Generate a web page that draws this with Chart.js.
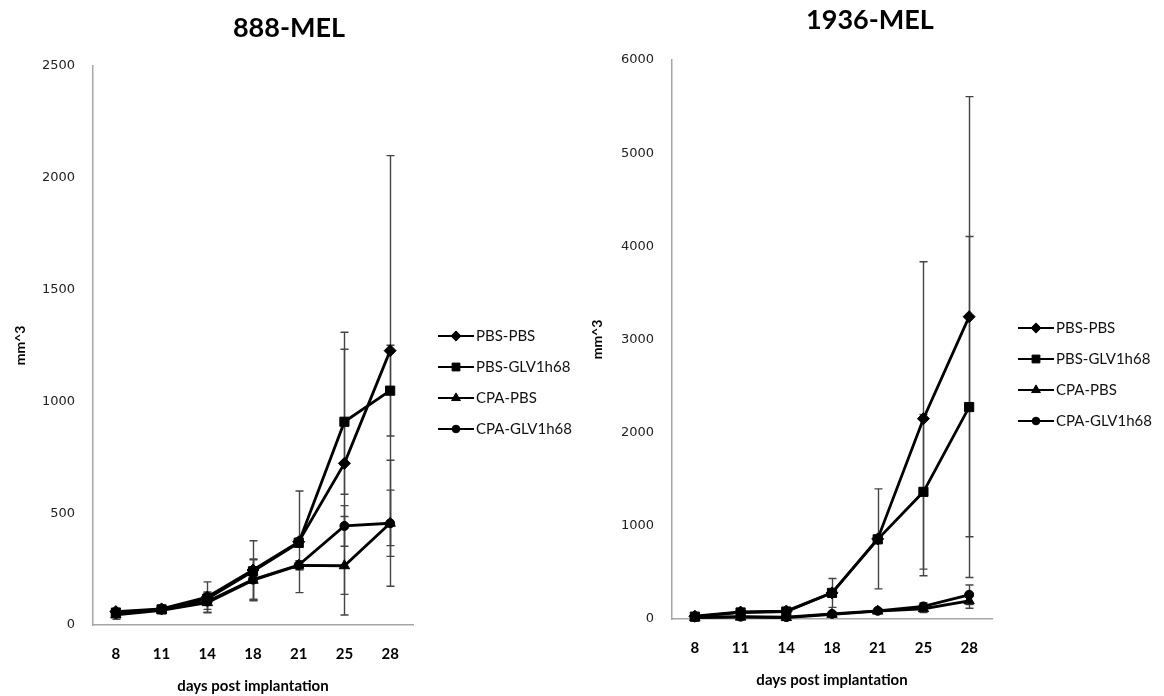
<!DOCTYPE html>
<html>
<head>
<meta charset="utf-8">
<script src="https://cdn.jsdelivr.net/npm/chart.js@4.4.0/dist/chart.umd.min.js"></script>
<style>
  body { margin: 0; background: #fff; }
  #wrap { position: relative; width: 1164px; height: 696px; }
  canvas { position: absolute; top: 0; }
</style>
</head>
<body>
<div id="wrap">
  <canvas id="chart888" width="582" height="696" style="left:0"></canvas>
  <canvas id="chart1936" width="582" height="696" style="left:582px"></canvas>
</div>
<script>
// days post implantation (x categories)
const days = ["8", "11", "14", "18", "21", "25", "28"];
const groups = ["PBS-PBS", "PBS-GLV1h68", "CPA-PBS", "CPA-GLV1h68"];
const markerStyles = ["rectRot", "rect", "triangle", "circle"];
const markerRadius = [6, 6.5, 6, 4.5];

// 888-MEL tumour volume (mm^3), mean and SD
const mel888_pbsPbs = [60, 72, 125, 246, 372, 723, 1227];
const mel888_pbsGlv = [55, 70, 118, 240, 368, 909, 1048];
const mel888_cpaPbs = [45, 66, 100, 200, 267, 265, 455];
const mel888_cpaGlv = [50, 70, 105, 203, 268, 443, 455];
const mel888_pbsPbs_sd = [15, 10, 68, 131, 227, 586, 872];
const mel888_pbsGlv_sd = [15, 10, 30, 20, 20, 324, 203];
const mel888_cpaPbs_sd = [20, 15, 45, 92, 20, 220, 148];
const mel888_cpaGlv_sd = [15, 12, 35, 92, 20, 91, 282];
const mel888_yTicks = [0, 500, 1000, 1500, 2000, 2500];

// 1936-MEL tumour volume (mm^3), mean and SD
const mel1936_pbsPbs = [30, 75, 85, 280, 860, 2150, 3245];
const mel1936_pbsGlv = [25, 70, 80, 280, 855, 1365, 2275];
const mel1936_cpaPbs = [15, 20, 15, 50, 85, 110, 195];
const mel1936_cpaGlv = [20, 25, 20, 55, 88, 135, 260];
const mel1936_pbsPbs_sd = [10, 20, 25, 155, 537, 1685, 2362];
const mel1936_pbsGlv_sd = [10, 20, 20, 30, 40, 830, 1830];
const mel1936_cpaPbs_sd = [5, 10, 5, 20, 20, 40, 80];
const mel1936_cpaGlv_sd = [5, 10, 5, 20, 20, 40, 105];
const mel1936_yTicks = [0, 1000, 2000, 3000, 4000, 5000, 6000];

// draws the +/- SD whiskers through the y scale
const errorBars = {
  id: "errorBars",
  beforeDatasetsDraw(chart) {
    const ctx = chart.ctx;
    const yScale = chart.scales.y;
    ctx.save();
    ctx.strokeStyle = "#444";
    ctx.lineWidth = 1.4;
    chart.data.datasets.forEach((ds, i) => {
      chart.getDatasetMeta(i).data.forEach((pt, j) => {
        const top = yScale.getPixelForValue(ds.data[j] + ds.errors[j]);
        const bot = yScale.getPixelForValue(ds.data[j] - ds.errors[j]);
        const x = Math.round(pt.x) + 0.5;
        ctx.beginPath();
        ctx.moveTo(x, top); ctx.lineTo(x, bot);
        ctx.moveTo(x - 4, top); ctx.lineTo(x + 4, top);
        ctx.moveTo(x - 4, bot); ctx.lineTo(x + 4, bot);
        ctx.stroke();
      });
    });
    ctx.restore();
  }
};

// chart title + legend on the right, line + marker like the spreadsheet one
const sideLegend = {
  id: "sideLegend",
  afterDraw(chart, args, opts) {
    const ctx = chart.ctx;
    ctx.save();
    ctx.font = "bold 27px Lato";
    ctx.fillStyle = "#000";
    ctx.textAlign = "center";
    ctx.textBaseline = "middle";
    ctx.fillText(opts.title, opts.titleX, opts.titleY);

    chart.data.datasets.forEach((ds, i) => {
      const y = opts.y + i * opts.gap;
      ctx.strokeStyle = "#000";
      ctx.lineWidth = 2;
      ctx.beginPath();
      ctx.moveTo(opts.x, y);
      ctx.lineTo(opts.x + 36, y);
      ctx.stroke();
      ctx.fillStyle = "#000";
      ctx.lineWidth = 1;
      Chart.helpers.drawPoint(ctx, { pointStyle: ds.pointStyle, radius: ds.pointRadius * 0.85, borderWidth: 1, rotation: 0 }, opts.x + 18, y);
      ctx.font = "15px Lato";
      ctx.fillStyle = "#111";
      ctx.textBaseline = "middle";
      ctx.textAlign = "left";
      ctx.fillText(ds.label, opts.x + 38, y);
    });
    ctx.restore();
  }
};

function makeDatasets(values, errors) {
  return values.map((v, i) => ({
    label: groups[i],
    data: v,
    errors: errors[i],
    borderColor: "#000",
    borderWidth: 2.8,
    backgroundColor: "#000",
    pointStyle: markerStyles[i],
    pointRadius: markerRadius[i],
    pointBackgroundColor: "#000",
    pointBorderColor: "#000",
    pointBorderWidth: 1,
    tension: 0,
    fill: false,
    clip: false
  }));
}

function makeChart(id, title, datasets, yTicks, L) {
  const axisBorder = { display: true, color: "#a6a6a6", width: 1.5 };
  new Chart(document.getElementById(id), {
    type: "line",
    data: { labels: days, datasets: datasets },
    options: {
      responsive: false,
      animation: false,
      events: [],
      layout: { padding: { left: 0, top: L.top, bottom: 0, right: L.padRight } },
      plugins: {
        legend: { display: false },
        tooltip: { enabled: false },
        title: { display: false },
        sideLegend: { title: title, titleX: L.titleX, titleY: L.titleY, x: L.legendX, y: L.legendY, gap: 31 }
      },
      scales: {
        x: {
          offset: true,
          grid: { display: false, drawTicks: false },
          border: axisBorder,
          ticks: { color: "#000", font: { family: "Lato", size: 15, weight: "bold" }, padding: 20, maxRotation: 0, autoSkip: false },
          title: {
            display: true,
            text: "days post implantation",
            color: "#000",
            font: { family: "Lato", size: 15, weight: "bold" },
            padding: { top: 0, bottom: L.xTitleBottom }
          },
          afterFit(s) { s.height = L.xHeight; }
        },
        y: {
          min: yTicks[0],
          max: yTicks[yTicks.length - 1],
          grid: { display: false, drawTicks: false },
          border: axisBorder,
          afterBuildTicks(s) { s.ticks = yTicks.map(v => ({ value: v })); },
          ticks: {
            color: "#222",
            font: { family: "DejaVu Sans", size: 13 },
            padding: 18,
            callback: v => String(v)
          },
          title: {
            display: true,
            text: "mm^3",
            color: "#000",
            font: { family: "Lato", size: 14, weight: "bold" },
            padding: { top: L.yTitleLeft, bottom: 0 }
          },
          afterFit(s) { s.width = L.yWidth; }
        }
      }
    },
    plugins: [errorBars, sideLegend]
  });
}

makeChart("chart888", "888-MEL",
  makeDatasets(
    [mel888_pbsPbs, mel888_pbsGlv, mel888_cpaPbs, mel888_cpaGlv],
    [mel888_pbsPbs_sd, mel888_pbsGlv_sd, mel888_cpaPbs_sd, mel888_cpaGlv_sd]),
  mel888_yTicks,
  { top: 66, padRight: 169, yWidth: 93, xHeight: 71, titleX: 289, titleY: 28,
    xTitleBottom: 1, yTitleLeft: 12, legendX: 438, legendY: 336 });

makeChart("chart1936", "1936-MEL",
  makeDatasets(
    [mel1936_pbsPbs, mel1936_pbsGlv, mel1936_cpaPbs, mel1936_cpaGlv],
    [mel1936_pbsPbs_sd, mel1936_pbsGlv_sd, mel1936_cpaPbs_sd, mel1936_cpaGlv_sd]),
  mel1936_yTicks,
  { top: 60, padRight: 172, yWidth: 90, xHeight: 77, titleX: 288, titleY: 20,
    xTitleBottom: 7, yTitleLeft: 7, legendX: 436, legendY: 328 });
</script>
</body>
</html>
